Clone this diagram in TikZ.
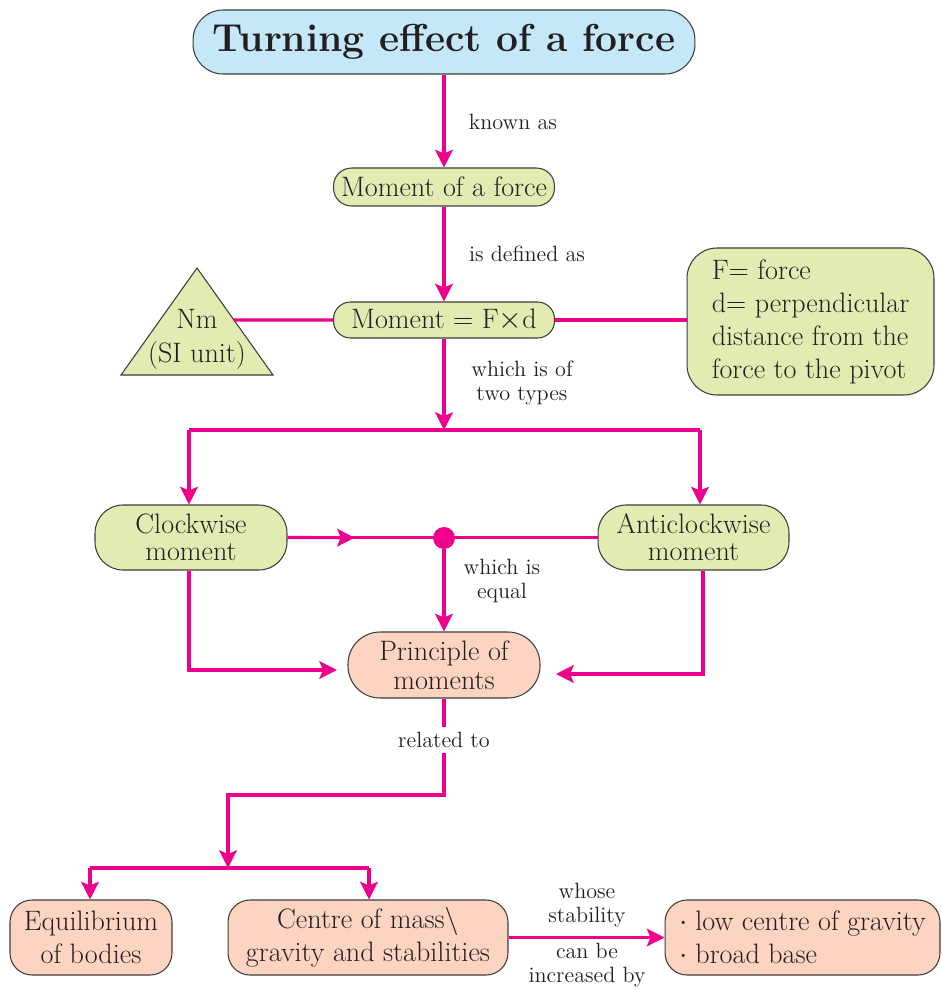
\documentclass[tikz,border=0pt]{standalone}
\usetikzlibrary{arrows.meta,calc}
\definecolor{LinkClr}{RGB}{236,0,140}
\definecolor{EdgeClr}{RGB}{60,60,60}
\definecolor{TextClr}{RGB}{35,31,32}
\definecolor{TitleClr}{RGB}{197,232,248}
\definecolor{GreenClr}{RGB}{226,235,177}
\definecolor{PinkClr}{RGB}{252,212,193}

\tikzset{
  Box/.style={draw=EdgeClr,line width=0.6pt,inner sep=2pt,align=center,text=TextClr,
    font=\fontsize{16}{18.8}\selectfont},
  GreenBox/.style={Box,fill=GreenClr},
  PinkBox/.style={Box,fill=PinkClr},
  Link/.style={draw=LinkClr,line width=1.8pt},
  LinkTip/.style={Link,-{Stealth[length=10pt,width=10pt,inset=2pt]}},
  Lbl/.style={font=\fontsize{12.6}{13.5}\selectfont,align=center,text=TextClr,inner sep=1pt},
}

\begin{document}
\begin{tikzpicture}[x=0.02cm,y=-0.02cm]
\useasboundingbox (0,0) rectangle (942,990);

% boxes
\node[Box,fill=TitleClr,minimum width=10.04cm,minimum height=1.28cm,rounded corners=0.6cm,
  font=\fontsize{22.2}{24}\bfseries] (T) at (444,42) {Turning effect of a force};
\node[GreenBox,minimum width=4.42cm,minimum height=0.76cm,rounded corners=0.36cm] (M1) at (444,187) {Moment of a force};
\node[GreenBox,minimum width=4.42cm,minimum height=0.72cm,rounded corners=0.34cm] (M2) at (444,320) {Moment = F$\times$d};
\node[GreenBox,align=left,minimum width=4.94cm,minimum height=2.94cm,rounded corners=0.6cm] (Def) at (810.5,321.5)
  {F= force\\d= perpendicular\\distance from the\\force to the pivot};

\filldraw[fill=GreenClr,draw=EdgeClr,line width=0.6pt] (197,268) coordinate (TriA)
  -- (273,375) coordinate (TriB) -- (121,375) coordinate (TriC) -- cycle;
\coordinate (TriE) at ($(TriA)!0.486!(TriB)$);
\node[Lbl,font=\fontsize{16}{19.4}\selectfont] (Tri) at (197,339) {Nm\\(SI unit)};

\node[GreenBox,minimum width=3.84cm,minimum height=1.3cm,rounded corners=0.56cm,
  font=\fontsize{16}{15.5}\selectfont] (CW) at (191,537.5) {Clockwise\\moment};
\node[GreenBox,minimum width=3.82cm,minimum height=1.3cm,rounded corners=0.56cm,
  font=\fontsize{16}{15.5}\selectfont] (ACW) at (693.5,537.5) {Anticlockwise\\moment};
\node[circle,fill=LinkClr,minimum size=0.44cm,inner sep=0pt] (D) at (444,538) {};

\node[PinkBox,minimum width=3.84cm,minimum height=1.32cm,rounded corners=0.64cm,
  font=\fontsize{16}{16.5}\selectfont] (Pr) at (444,665) {Principle of\\moments};

\node[PinkBox,minimum width=3.24cm,minimum height=1.5cm,rounded corners=0.44cm] (Eq) at (91,937.5) {Equilibrium\\of bodies};
\node[PinkBox,minimum width=5.6cm,minimum height=1.5cm,rounded corners=0.44cm] (CG) at (368,937.5)
  {Centre of mass\textbackslash\\gravity and stabilities};
\node[PinkBox,align=left,minimum width=5.5cm,minimum height=1.5cm,rounded corners=0.44cm] (St) at (802.5,937.5)
  {$\cdot$\;low centre of gravity\\$\cdot$\;broad base};

% connectors
\draw[LinkTip] (T) -- (M1);
\draw[LinkTip] (M1) -- (M2);
\draw[Link] (TriE) -- (M2);
\draw[Link] (M2.east) -- (M2.east -| Def.west);

\coordinate (Br) at (444,430);
\coordinate (BrL) at (189,430);
\coordinate (BrR) at (700,430);
\draw[LinkTip] (M2) -- (Br);
\draw[Link] (BrL) -- (BrR);
\draw[LinkTip] (BrL) -- (BrL |- CW.north);
\draw[LinkTip] (BrR) -- (BrR |- ACW.north);

\draw[Link] (CW) -- (ACW);
\draw[LinkTip] (CW.east) -- ($(CW.east)!0.43!(D)$);
\draw[LinkTip] (D) -- (Pr);

\coordinate (PrL) at (337,670);
\coordinate (PrR) at (556,674);
\draw[LinkTip] (CW.south -| 189,0) |- (PrL);
\draw[LinkTip] (ACW.south -| 703,0) |- (PrR);

\coordinate (Bend) at (228,795);
\coordinate (Br2) at (228,868);
\coordinate (Br2L) at (90,868);
\coordinate (Br2R) at (369,868);
\draw[LinkTip] (Pr) -- (Pr |- Bend) -| (Br2);
\draw[Link] (Br2L) -- (Br2R);
\draw[LinkTip] (Br2L) -- (Br2L |- Eq.north);
\draw[LinkTip] (Br2R) -- (Br2R |- CG.north);
\draw[LinkTip] (CG) -- (St);

% labels
\node[Lbl] (L1) at (513,122) {known as};
\node[Lbl] (L2) at (527,254) {is defined as};
\node[Lbl] (L3) at (522,383) {which is of\\two types};
\node[Lbl] (L4) at (502,581) {which is\\equal};
\node[Lbl,fill=white,inner sep=3pt] (L5) at (444,740) {related to};
\node[Lbl] (L6) at (587,905) {whose\\stability};
\node[Lbl] (L7) at (587,965) {can be\\increased by};

\end{tikzpicture}
\end{document}
